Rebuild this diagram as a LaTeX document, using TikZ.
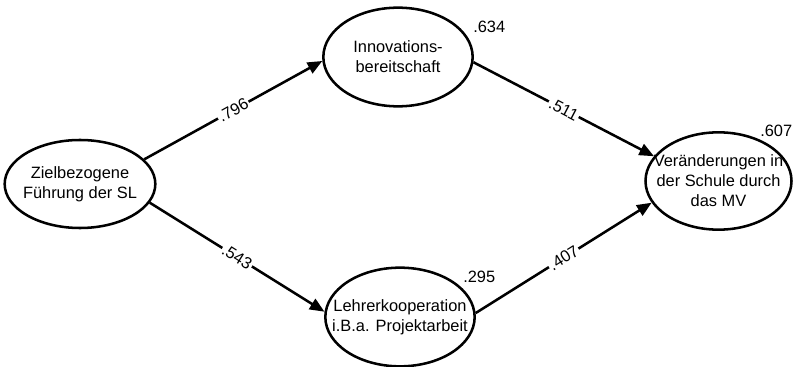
\documentclass[tikz,border=0pt]{standalone}
\usepackage{fontspec}
\setmainfont{Liberation Sans}
\usetikzlibrary{shapes.geometric,arrows.meta}
\begin{document}
\begin{tikzpicture}[x=0.75pt,y=-0.75pt,
  latent/.style={ellipse,draw,line width=1.9pt,inner xsep=-40pt,inner ysep=-30pt,align=center,font=\fontsize{12.3}{15}\selectfont},
  pathline/.style={line width=1.9pt,-{Triangle[length=11pt,width=9pt]}},
  coef/.style={sloped,fill=white,inner sep=1pt,font=\fontsize{12.3}{14}\selectfont},
  rsq/.style={inner sep=0pt,anchor=base west,font=\fontsize{12.3}{14}\selectfont}]
\useasboundingbox (0,0) rectangle (793,367);
\node[latent,minimum width=113pt,minimum height=66pt] (Z) at (80,184) {Zielbezogene\\Führung der SL};
\node[latent,minimum width=112pt,minimum height=74pt] (I) at (398,57) {Innovations-\\bereitschaft};
\node[latent,minimum width=112pt,minimum height=74pt] (L) at (400,317) {Lehrerkooperation\\i.B.a. Projektarbeit};
\node[latent,minimum width=109.5pt,minimum height=73pt] (V) at (718.5,181) {Veränderungen in\\der Schule durch\\das MV};
\draw[pathline] (Z.21) -- node[coef]{.796} (I.183);
\draw[pathline] (Z.-15) -- node[coef]{.543} (L.176);
\draw[pathline] (I.-4) -- node[coef]{.511} (V.159);
\draw[pathline] (L.3) -- node[coef]{.407} (V.198);
\node[rsq] (rI) at (473,33) {.634};
\node[rsq] (rL) at (463,282) {.295};
\node[rsq] (rV) at (760,137) {.607};
\end{tikzpicture}
\end{document}
